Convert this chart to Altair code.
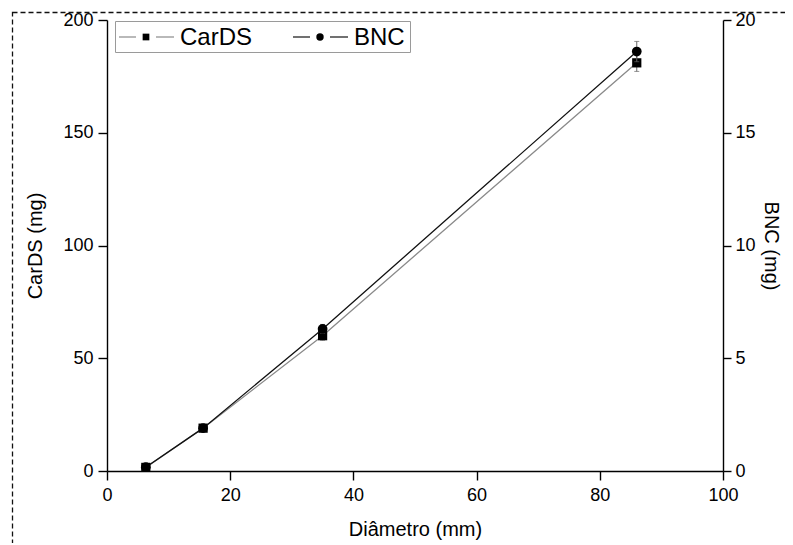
import altair as alt
import pandas as pd

# ---- data ----
diametro = [6.3, 15.6, 35.0, 86.0]          # Diâmetro (mm)
cards = [1.6, 19.0, 60.0, 181.0]            # CarDS (mg)
cards_err = [0.5, 1.2, 2.0, 3.8]
bnc = [0.17, 1.9, 6.3, 18.6]                # BNC (mg)
bnc_err = [0.04, 0.1, 0.2, 0.45]
series = ["CarDS", "BNC"]

x_ticks = [0, 20, 40, 60, 80, 100]
yl_ticks = [0, 50, 100, 150, 200]
yr_ticks = [0, 5, 10, 15, 20]

df = pd.DataFrame({
    "d": diametro,
    "c": cards,
    "c_lo": [v - e for v, e in zip(cards, cards_err)],
    "c_hi": [v + e for v, e in zip(cards, cards_err)],
    "b": bnc,
    "b_lo": [v - e for v, e in zip(bnc, bnc_err)],
    "b_hi": [v + e for v, e in zip(bnc, bnc_err)],
})

FONT = "Liberation Sans"
W, H = 616, 451
C_LINE = "#8a8a8a"
B_LINE = "#111111"

x_enc = alt.X(
    "d:Q",
    scale=alt.Scale(domain=[0, 100], nice=False, zero=False),
    axis=alt.Axis(title="Diâmetro (mm)", values=x_ticks, tickSize=9, labelPadding=6,
                  titlePadding=15, labelFontSize=18, titleFontSize=20, labelFlush=False,
                  format="d"),
)

yl_scale = alt.Scale(domain=[0, 200], nice=False)
yl_axis = alt.Axis(title="CarDS (mg)", values=yl_ticks, orient="left", tickSize=9,
                   labelPadding=5, titlePadding=17, labelFontSize=18, titleFontSize=20,
                   format="d")
yr_scale = alt.Scale(domain=[0, 20], nice=False)
yr_axis = alt.Axis(title="BNC (mg)", values=yr_ticks, orient="right", tickSize=8,
                   labelPadding=4, titlePadding=5, labelFontSize=18, titleFontSize=20,
                   titleAngle=90, format="d")

base = alt.Chart(df)

c_line = base.mark_line(color=C_LINE, strokeWidth=1.3).encode(
    x=x_enc, y=alt.Y("c:Q", scale=yl_scale, axis=yl_axis))
c_err = base.mark_errorbar(ticks=True, color="#666666").encode(
    x=x_enc, y=alt.Y("c_lo:Q", scale=yl_scale, axis=yl_axis), y2="c_hi:Q")
c_pts = base.mark_point(shape="square", filled=True, size=85, color="black", opacity=1).encode(
    x=x_enc, y=alt.Y("c:Q", scale=yl_scale, axis=yl_axis))
left = alt.layer(c_line, c_err, c_pts)

b_line = base.mark_line(color=B_LINE, strokeWidth=1.3).encode(
    x=x_enc, y=alt.Y("b:Q", scale=yr_scale, axis=yr_axis))
b_err = base.mark_errorbar(ticks=True, color="#666666").encode(
    x=x_enc, y=alt.Y("b_lo:Q", scale=yr_scale, axis=yr_axis), y2="b_hi:Q")
b_pts = base.mark_point(shape="circle", filled=True, size=95, color="black", opacity=1).encode(
    x=x_enc, y=alt.Y("b:Q", scale=yr_scale, axis=yr_axis))
right = alt.layer(b_line, b_err, b_pts)

one = pd.DataFrame({"k": [0]})

# dashed frame of the figure
frame = alt.Chart(one).mark_rect(fillOpacity=0, stroke="#111111", strokeWidth=1.3,
                                  strokeDash=[5, 3]).encode(
    x=alt.value(-94.5), x2=alt.value(760), y=alt.value(-7.5), y2=alt.value(620))

# legend box
leg_box = alt.Chart(one).mark_rect(fill="white", stroke="#9a9a9a", strokeWidth=1).encode(
    x=alt.value(8.5), x2=alt.value(303.5), y=alt.value(1.5), y2=alt.value(32.5))

leg_layers = [leg_box]
entry_x = [12, 186]
entry_col = [C_LINE, B_LINE]
entry_shape = ["square", "circle"]
entry_size = [45, 55]
LY = 17
for name, x0, col, shp, sz in zip(series, entry_x, entry_col, entry_shape, entry_size):
    d = pd.DataFrame({"name": [name]})
    leg_layers.append(alt.Chart(d).mark_rule(color=col, strokeWidth=1.2).encode(
        x=alt.value(x0), x2=alt.value(x0 + 17), y=alt.value(LY)))
    leg_layers.append(alt.Chart(d).mark_point(shape=shp, filled=True, size=sz,
                                              color="black", opacity=1).encode(
        x=alt.value(x0 + 27), y=alt.value(LY)))
    leg_layers.append(alt.Chart(d).mark_rule(color=col, strokeWidth=1.2).encode(
        x=alt.value(x0 + 37), x2=alt.value(x0 + 55), y=alt.value(LY)))
    leg_layers.append(alt.Chart(d).mark_text(align="left", baseline="middle", fontSize=24,
                                             font=FONT, color="black").encode(
        x=alt.value(x0 + 61), y=alt.value(LY + 1), text="name:N"))

chart = alt.layer(frame, left, right, *leg_layers).resolve_scale(
    y="independent"
).properties(
    width=W, height=H,
    autosize=alt.AutoSizeParams(type="none"),
    padding={"left": 99, "top": 12, "right": 62, "bottom": 72},
).configure_view(
    stroke=None
).configure_axis(
    grid=False, domainColor="black", tickColor="black", domainWidth=1.4, tickWidth=1.4,
    labelColor="black", titleColor="black", labelFont=FONT, titleFont=FONT,
    titleFontWeight="normal",
)

chart.save("out.html", embed_options={"renderer": "svg", "actions": False})
